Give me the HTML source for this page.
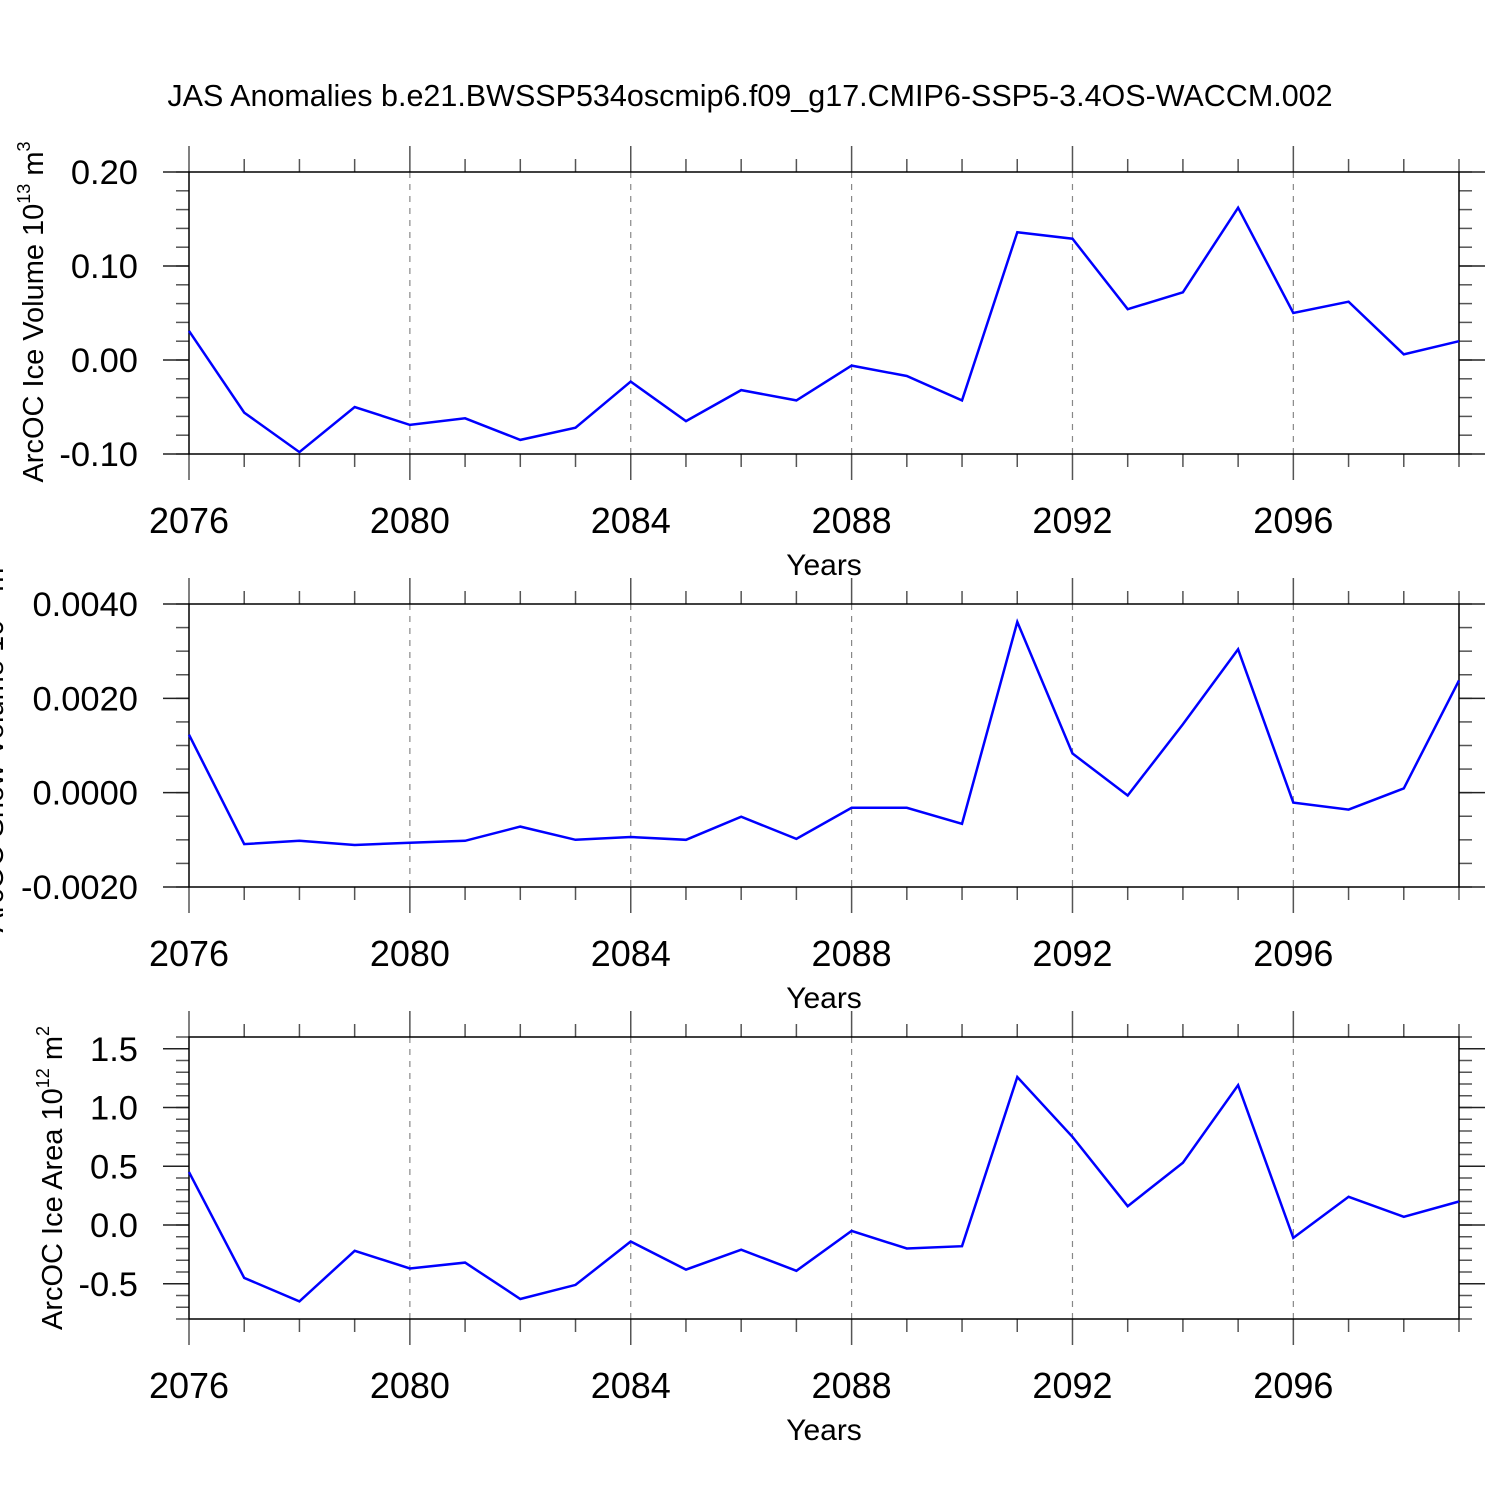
<!DOCTYPE html>
<html><head><meta charset="utf-8"><style>
html,body{margin:0;padding:0;background:#fff;}
svg{display:block;font-family:"Liberation Sans",Arial,sans-serif;}
</style></head><body>
<svg id="chart" width="1500" height="1500" viewBox="0 0 1500 1500" xmlns="http://www.w3.org/2000/svg">
<text x="750" y="106" font-size="30.5" text-anchor="middle">JAS Anomalies b.e21.BWSSP534oscmip6.f09_g17.CMIP6-SSP5-3.4OS-WACCM.002</text>
</svg>
<script>
const years = [2076,2077,2078,2079,2080,2081,2082,2083,2084,2085,2086,2087,2088,2089,2090,2091,2092,2093,2094,2095,2096,2097,2098,2099];
const iceVolume = [0.031,-0.056,-0.098,-0.050,-0.069,-0.062,-0.085,-0.072,-0.023,-0.065,-0.032,-0.043,-0.006,-0.017,-0.043,0.136,0.129,0.054,0.072,0.162,0.050,0.062,0.006,0.020];
const snowVolume = [0.00123,-0.00109,-0.00102,-0.00111,-0.00106,-0.00102,-0.00072,-0.00100,-0.00094,-0.00100,-0.00051,-0.00098,-0.00032,-0.00032,-0.00066,0.00362,0.00083,-0.00006,0.00145,0.00304,-0.00021,-0.00036,0.00009,0.00238];
const iceArea = [0.45,-0.45,-0.65,-0.22,-0.37,-0.32,-0.63,-0.51,-0.14,-0.38,-0.21,-0.39,-0.05,-0.20,-0.18,1.26,0.75,0.16,0.53,1.19,-0.11,0.24,0.07,0.20];
const xTickYears = [2076,2080,2084,2088,2092,2096];
const volTicks = [0.20,0.10,0.00,-0.10];
const volTickLabels = ["0.20","0.10","0.00","-0.10"];
const snowTicks = [0.004,0.002,0,-0.002];
const snowTickLabels = ["0.0040","0.0020","0.0000","-0.0020"];
const areaTicks = [1.5,1.0,0.5,0.0,-0.5];
const areaTickLabels = ["1.5","1.0","0.5","0.0","-0.5"];

const NS="http://www.w3.org/2000/svg";
const svg=document.getElementById('chart');
function mk(tag,attrs,parent){const e=document.createElementNS(NS,tag);for(const k in attrs)e.setAttribute(k,attrs[k]);(parent||svg).appendChild(e);return e;}

const X0=189,X1=1459,YMIN=2076,YMAX=2099;
function xs(v){return X0+(v-YMIN)/(YMAX-YMIN)*(X1-X0);}

function panel(cfg){
  const g=mk('g',{});
  
  
  const ys=v=>cfg.top+(cfg.ymax-v)/(cfg.ymax-cfg.ymin)*(cfg.bot-cfg.top);
  xTickYears.slice(1).forEach(yr=>{
    const l=mk('line',{x1:xs(yr),x2:xs(yr),y1:cfg.top,y2:cfg.bot,stroke:'#888','stroke-width':1.2,'stroke-dasharray':'6,6'},g);
    
    
  });
  for(let yr=YMIN;yr<=YMAX;yr++){
    const major=(yr-YMIN)%4===0;
    const len=major?26:13;
    mk('line',{x1:xs(yr),x2:xs(yr),y1:cfg.top-len,y2:cfg.top,stroke:'#555','stroke-width':1.5},g);
    mk('line',{x1:xs(yr),x2:xs(yr),y1:cfg.bot,y2:cfg.bot+len,stroke:'#555','stroke-width':1.5},g);
  }
  xTickYears.forEach(yr=>{
    const t=mk('text',{x:xs(yr),y:cfg.bot+79,'font-size':36,'text-anchor':'middle'},g);
    t.textContent=yr;
    
    
  });
  const xt=mk('text',{x:824,y:cfg.bot+121,'font-size':30,'text-anchor':'middle'},g);
  xt.textContent='Years';
  
  
  for(let v=cfg.ymin;v<=cfg.ymax+1e-9;v+=cfg.minor){
    const y=ys(v);
    mk('line',{x1:X0-13,x2:X0,y1:y,y2:y,stroke:'#555','stroke-width':1.5},g);
    mk('line',{x1:X1,x2:X1+13,y1:y,y2:y,stroke:'#555','stroke-width':1.5},g);
  }
  cfg.ticks.forEach((v,i)=>{
    const y=ys(v);
    mk('line',{x1:X0-26,x2:X0,y1:y,y2:y,stroke:'#222','stroke-width':1.5},g);
    mk('line',{x1:X1,x2:X1+26,y1:y,y2:y,stroke:'#222','stroke-width':1.5},g);
    const t=mk('text',{x:138,y:y+12,'font-size':34.5,'text-anchor':'end'},g);
    t.textContent=cfg.labels[i];
    
    
  });
  const r=mk('rect',{x:X0,y:cfg.top,width:X1-X0,height:cfg.bot-cfg.top,fill:'none',stroke:'#000','stroke-width':1.5},g);
  
  
  const yt=mk('text',{x:0,y:0,'font-size':29,'text-anchor':'middle',transform:`translate(${cfg.titleX},${cfg.titleY}) rotate(-90)`},g);
  
  
  yt.innerHTML=cfg.title+' 10<tspan dy="-13" font-size="18">'+cfg.exp+'</tspan><tspan dy="13"> m</tspan><tspan dy="-13" font-size="18">'+cfg.unitExp+'</tspan>';
  const pts=cfg.data.map((v,i)=>xs(years[i]).toFixed(1)+','+ys(v).toFixed(1)).join(' ');
  const pl=mk('polyline',{points:pts,fill:'none',stroke:'#0000ff','stroke-width':2.5,'stroke-linejoin':'miter'},g);
  
  
}
panel({name:'ice-volume-panel',top:172,bot:454,ymin:-0.1,ymax:0.2,minor:0.02,ticks:volTicks,labels:volTickLabels,data:iceVolume,title:'ArcOC Ice Volume',exp:'13',unitExp:'3',titleX:43,titleY:312});
panel({name:'snow-volume-panel',top:604,bot:887,ymin:-0.002,ymax:0.004,minor:0.0005,ticks:snowTicks,labels:snowTickLabels,data:snowVolume,title:'ArcOC Snow Volume',exp:'13',unitExp:'3',titleX:3,titleY:745});
panel({name:'ice-area-panel',top:1037,bot:1319,ymin:-0.8,ymax:1.6,minor:0.1,ticks:areaTicks,labels:areaTickLabels,data:iceArea,title:'ArcOC Ice Area',exp:'12',unitExp:'2',titleX:62,titleY:1178});
</script>
</body></html>
